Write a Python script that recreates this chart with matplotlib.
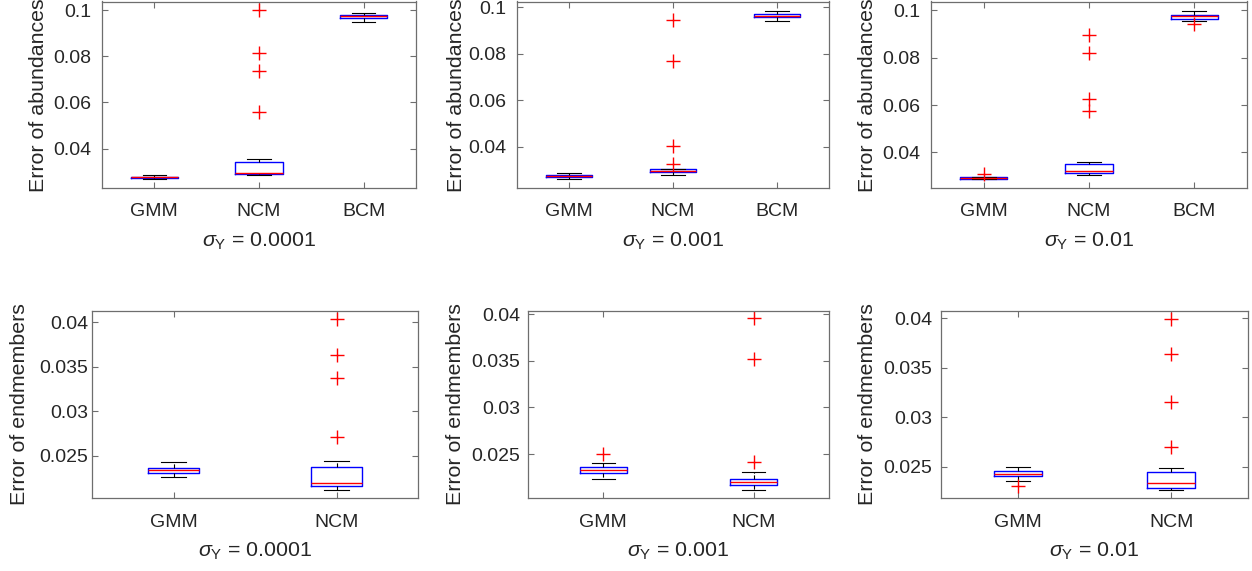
import matplotlib
matplotlib.use('Agg')
import matplotlib.pyplot as plt

plt.rcParams['font.family'] = ['Liberation Sans', 'DejaVu Sans']
plt.rcParams['mathtext.fontset'] = 'custom'
plt.rcParams['mathtext.rm'] = 'Liberation Sans'
plt.rcParams['mathtext.it'] = 'Liberation Sans:italic'

sigma_labels = ['0.0001', '0.001', '0.01']
methods_abund = ['GMM', 'NCM', 'BCM']
methods_end = ['GMM', 'NCM']

# box stats: (whislo, q1, med, q3, whishi, fliers)
abund_stats = [
    [  # sigma 0.0001
        (0.0267, 0.0273, 0.0276, 0.0279, 0.0287, []),
        (0.0286, 0.0292, 0.0296, 0.0341, 0.0357, [0.1000, 0.0814, 0.0735, 0.0559]),
        (0.0947, 0.0965, 0.0974, 0.0980, 0.0988, []),
    ],
    [  # sigma 0.001
        (0.0261, 0.0270, 0.0275, 0.0281, 0.0287, []),
        (0.0281, 0.0291, 0.0298, 0.0305, 0.0306, [0.0943, 0.0768, 0.0406, 0.0328]),
        (0.0939, 0.0956, 0.0963, 0.0971, 0.0982, []),
    ],
    [  # sigma 0.01
        (0.0285, 0.0286, 0.0292, 0.0296, 0.0297, [0.0308]),
        (0.0303, 0.0314, 0.0321, 0.0351, 0.0357, [0.0896, 0.0821, 0.0625, 0.0575]),
        (0.0954, 0.0965, 0.0975, 0.0980, 0.0997, [0.0941]),
    ],
]

end_stats = [
    [  # sigma 0.0001
        (0.02260, 0.02302, 0.02336, 0.02358, 0.02426, []),
        (0.02118, 0.02159, 0.02196, 0.02373, 0.02437, [0.04034, 0.03636, 0.03374, 0.02710]),
    ],
    [  # sigma 0.001
        (0.02234, 0.02302, 0.02331, 0.02360, 0.02399, [0.02496]),
        (0.02119, 0.02166, 0.02201, 0.02237, 0.02313, [0.03953, 0.03519, 0.02410]),
    ],
    [  # sigma 0.01
        (0.02355, 0.02403, 0.02426, 0.02453, 0.02500, [0.02302]),
        (0.02264, 0.02282, 0.02338, 0.02449, 0.02484, [0.03990, 0.03636, 0.03157, 0.02702]),
    ],
]

abund_ylims = [(0.0230, 0.1037), (0.0224, 0.1024), (0.0249, 0.1038)]
end_ylims = [(0.0202, 0.0413), (0.02026, 0.04036), (0.0218, 0.04077)]
abund_yticks = [0.04, 0.06, 0.08, 0.1]
abund_yticklabels = ['0.04', '0.06', '0.08', '0.1']
end_yticks = [0.025, 0.03, 0.035, 0.04]
end_yticklabels = ['0.025', '0.03', '0.035', '0.04']

W, H = 1252, 571
top_cols = [(102, 416), (517, 829), (931, 1247)]
bot_cols = [(92, 418), (528, 829), (941, 1248)]
top_rows = (1.5, 188)
bot_rows = (310.7, 498.3)
# per panel: y tick label gap (pt) and x pixel of the y label anchor
top_ypad = [8, 7.5, 7.5]
bot_ypad = [2.5, 5.5, 6.5]
top_ylab_x = [48, 466, 877]
bot_ylab_x = [29, 465, 877]

fig = plt.figure(figsize=(W / 100, H / 100), dpi=100)
fs = 14
lfs = 15.4
frame_col = '#6e6e6e'
text_col = '#262626'


def make_ax(cols, rows):
    x0, x1 = cols
    y0, y1 = rows
    return fig.add_axes([x0 / W, 1 - y1 / H, (x1 - x0) / W, (y1 - y0) / H])


def draw(ax, cols, stats, names, width, ylim, yticks, yticklabels, ylabel,
         sigma, ypad, ylab_x):
    bxp = []
    for s, n in zip(stats, names):
        bxp.append(dict(whislo=s[0], q1=s[1], med=s[2], q3=s[3], whishi=s[4],
                        fliers=s[5], label=n))
    ax.bxp(bxp, positions=range(1, len(names) + 1), widths=width,
           showfliers=True, patch_artist=False,
           boxprops=dict(color='blue', linewidth=1.0),
           medianprops=dict(color='red', linewidth=1.0),
           whiskerprops=dict(color='black', linewidth=0.8, linestyle='--'),
           capprops=dict(color='black', linewidth=0.8),
           capwidths=width / 2,
           flierprops=dict(marker='+', markeredgecolor='red', markersize=10,
                           markeredgewidth=1.0, linestyle='none'))
    ax.set_xlim(0.5, len(names) + 0.5)
    ax.set_ylim(*ylim)
    ax.set_yticks(yticks)
    ax.set_yticklabels(yticklabels)
    ax.set_xticks(range(1, len(names) + 1))
    ax.set_xticklabels(names)
    ax.tick_params(direction='in', top=True, right=True, length=4,
                   width=0.8, color=frame_col, labelsize=fs,
                   labelcolor=text_col)
    ax.tick_params(axis='x', pad=11)
    ax.tick_params(axis='y', pad=ypad)
    for sp in ax.spines.values():
        sp.set_color(frame_col)
        sp.set_linewidth(0.9)
    ax.set_ylabel(ylabel, fontsize=lfs, color=text_col)
    ax.yaxis.set_label_coords((ylab_x - cols[0]) / (cols[1] - cols[0]), 0.5)
    ax.set_xlabel(r'$\sigma_\mathrm{Y}$ = ' + sigma, fontsize=lfs,
                  color=text_col, labelpad=7.5)


for i in range(3):
    ax = make_ax(top_cols[i], top_rows)
    draw(ax, top_cols[i], abund_stats[i], methods_abund, 0.45, abund_ylims[i],
         abund_yticks, abund_yticklabels, 'Error of abundances',
         sigma_labels[i], top_ypad[i], top_ylab_x[i])
    ax = make_ax(bot_cols[i], bot_rows)
    draw(ax, bot_cols[i], end_stats[i], methods_end, 0.31, end_ylims[i],
         end_yticks, end_yticklabels, 'Error of endmembers',
         sigma_labels[i], bot_ypad[i], bot_ylab_x[i])

fig.savefig('out.png', dpi=100)
